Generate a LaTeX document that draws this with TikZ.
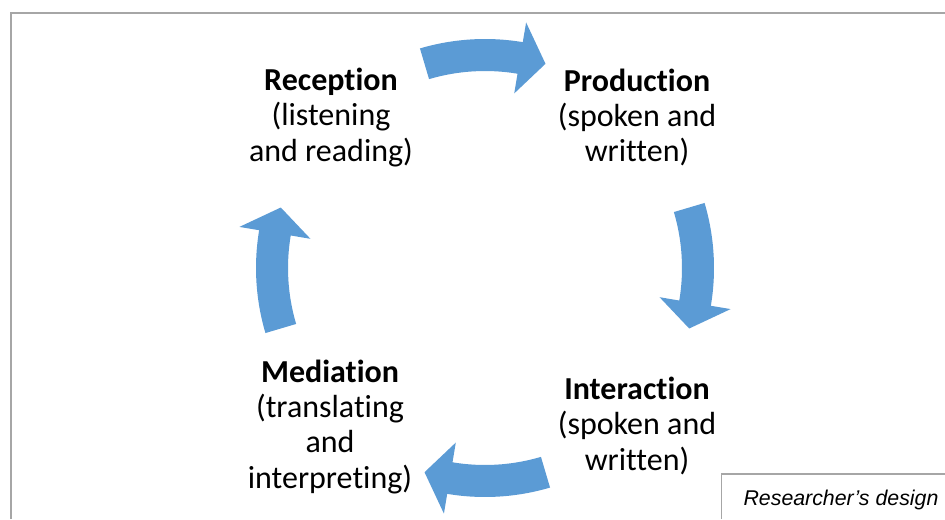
\documentclass[tikz,border=0pt]{standalone}
\usepackage{fontspec}
\setmainfont{Carlito}[Ligatures=NoCommon]
\newfontfamily\arialfont{Liberation Sans}
\usetikzlibrary{calc}
\definecolor{arrowblue}{HTML}{5B9BD5}
\definecolor{framegray}{HTML}{A6A6A6}
\tikzset{
  label text/.style={align=center, inner sep=0pt, font=\fontsize{24}{26.5}\selectfont},
  cyclearrow/.style={fill=arrowblue, draw=none},
}
\newcommand{\cyclearrowat}[1]{%
  \fill[cyclearrow] ($(C)+(#1+16.5:229)$) arc[start angle=#1+16.5, end angle=#1-9.5, radius=229]
    -- ($(C)+(#1-9.5:249)$) -- ($(C)+(#1-16.5:213)$) -- ($(C)+(#1-9.5:177)$)
    -- ($(C)+(#1-9.5:197)$) arc[start angle=#1-9.5, end angle=#1+16.5, radius=197] -- cycle;}
\begin{document}
\begin{tikzpicture}[x=0.75pt,y=0.75pt]
\useasboundingbox (0,0) rectangle (945,519);
\fill[white] (0,0) rectangle (945,519);
% outer frame
\draw[framegray, line width=1.5pt] (10.5,0) -- (10.5,505.5) -- (945,505.5);
\coordinate (C) at (485,251);
\cyclearrowat{90}
\cyclearrowat{0}
\cyclearrowat{270}
\cyclearrowat{180}
% labels (anchor base = baseline of last line)
\node[label text, anchor=base] (reception) at (331,357.7) {\textbf{Reception}\\(listening\\and reading)};
\node[label text, anchor=base] (production) at (637,357.3) {\textbf{Production}\\(spoken and\\written)};
\node[label text, anchor=base] (interaction) at (637,49) {\textbf{Interaction}\\(spoken and\\written)};
\node[label text, anchor=base] (mediation) at (330,31) {\textbf{Mediation}\\(translating\\and\\interpreting)};
% researcher box
\draw[framegray, line width=1.2pt] (721.5,0) -- (721.5,45) -- (945,45);
\node[font=\arialfont\itshape\fontsize{16}{18}\selectfont, anchor=base, inner sep=0pt] (design) at (841,14) {Researcher’s design};
\end{tikzpicture}
\end{document}
